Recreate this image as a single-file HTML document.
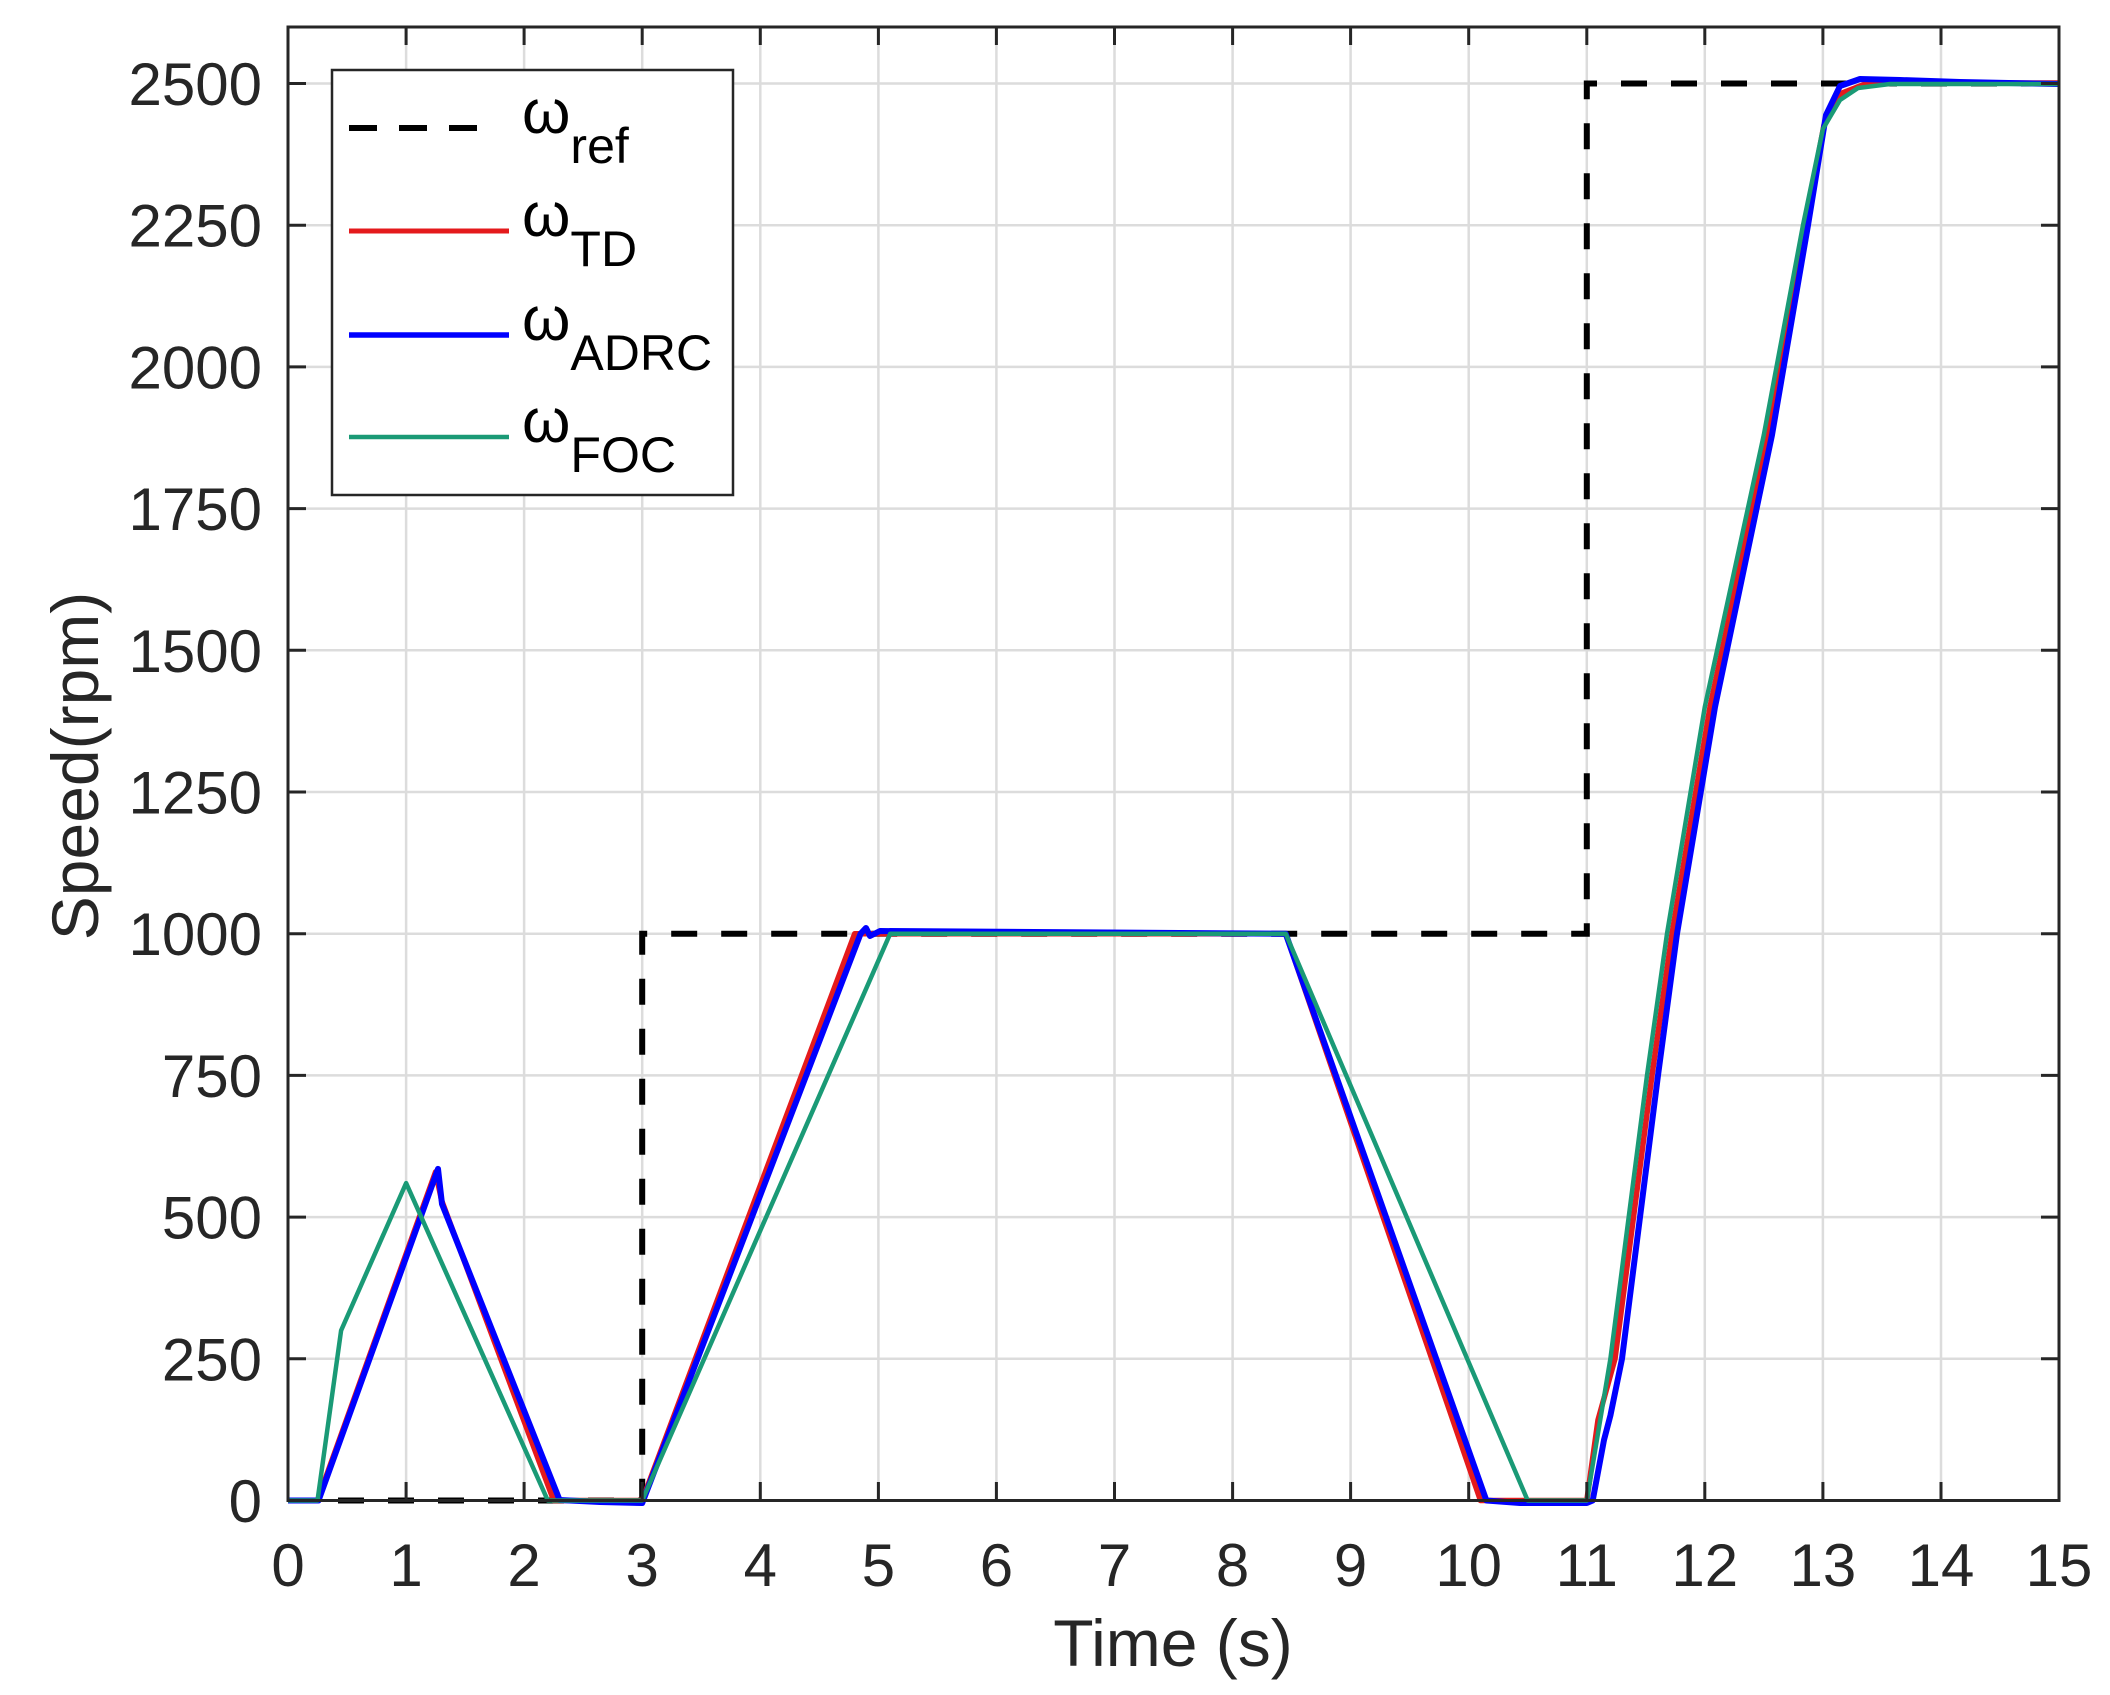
<!DOCTYPE html>
<html><head><meta charset="utf-8"><style>
html,body{margin:0;padding:0;background:#fff}
svg{display:block}
text{font-family:"Liberation Sans",Arial,sans-serif;fill:#262626}
</style></head><body>
<svg width="2110" height="1695" viewBox="0 0 2110 1695" xmlns="http://www.w3.org/2000/svg">
<rect width="2110" height="1695" fill="#fff"/>
<g stroke="#dcdcdc" stroke-width="2.5">
<line x1="406.1" y1="27" x2="406.1" y2="1500"/><line x1="524.1" y1="27" x2="524.1" y2="1500"/><line x1="642.2" y1="27" x2="642.2" y2="1500"/><line x1="760.3" y1="27" x2="760.3" y2="1500"/><line x1="878.4" y1="27" x2="878.4" y2="1500"/><line x1="996.4" y1="27" x2="996.4" y2="1500"/><line x1="1114.5" y1="27" x2="1114.5" y2="1500"/><line x1="1232.6" y1="27" x2="1232.6" y2="1500"/><line x1="1350.6" y1="27" x2="1350.6" y2="1500"/><line x1="1468.7" y1="27" x2="1468.7" y2="1500"/><line x1="1586.8" y1="27" x2="1586.8" y2="1500"/><line x1="1704.8" y1="27" x2="1704.8" y2="1500"/><line x1="1822.9" y1="27" x2="1822.9" y2="1500"/><line x1="1941" y1="27" x2="1941" y2="1500"/>
<line x1="288" y1="1358.8" x2="2059" y2="1358.8"/><line x1="288" y1="1217.1" x2="2059" y2="1217.1"/><line x1="288" y1="1075.4" x2="2059" y2="1075.4"/><line x1="288" y1="933.7" x2="2059" y2="933.7"/><line x1="288" y1="792" x2="2059" y2="792"/><line x1="288" y1="650.3" x2="2059" y2="650.3"/><line x1="288" y1="508.6" x2="2059" y2="508.6"/><line x1="288" y1="366.9" x2="2059" y2="366.9"/><line x1="288" y1="225.2" x2="2059" y2="225.2"/><line x1="288" y1="83.5" x2="2059" y2="83.5"/>
</g>
<polyline fill="none" stroke="#000" stroke-width="6" stroke-dasharray="26,24" points="288,1500.5 642.2,1500.5 642.2,933.7 1586.8,933.7 1586.8,83.5 2059,83.5"/>
<polyline fill="none" stroke="#e41a1c" stroke-width="5.5" stroke-linejoin="round" points="288,1500.5 317.5,1500.5 435.6,1171.8 441.5,1200.1 553.7,1500.5 642.2,1500.5 854.7,933.7 1285.7,933.7 1480.5,1500.5 1586.8,1500.5 1598,1420 1615,1358.8 1652,1075.4 1672,933.7 1710,707 1768,435 1805,225.2 1824,125 1842,93 1865,84 1900,83 2059,83"/>
<polyline fill="none" stroke="#0000ff" stroke-width="6" stroke-linejoin="round" points="288,1500.5 318.5,1500.5 438,1168.9 442,1204 559.6,1500 600,1502 642.2,1503 860.6,933.7 866,928 870,936 880,931 1285.7,933.7 1486.4,1500.5 1520,1503 1586.8,1503 1592.7,1500.5 1604,1440 1610.4,1415.5 1622,1358.8 1658,1075.4 1677,933.7 1715,707 1772,435 1808,225.2 1826,115 1840,86 1860,79 1900,80 1960,82 2059,84"/>
<polyline fill="none" stroke="#1a9a76" stroke-width="4.5" stroke-linejoin="round" points="288,1500.5 317.5,1500.5 341.1,1330.5 406.1,1183.1 547.8,1500.5 642.2,1500.5 890.2,933.7 1285.7,933.7 1527.7,1500.5 1586.8,1500.5 1610.4,1358.8 1647,1075.4 1667,933.7 1704.8,707 1763.8,435 1803,225.2 1822.9,129 1840,100 1858,88 1890,84 2059,84"/>
<rect x="288" y="27" width="1771" height="1473.5" fill="none" stroke="#262626" stroke-width="3"/>
<g stroke="#262626" stroke-width="3">
<path d="M406.1 1500v-18M524.1 1500v-18M642.2 1500v-18M760.3 1500v-18M878.4 1500v-18M996.4 1500v-18M1114.5 1500v-18M1232.6 1500v-18M1350.6 1500v-18M1468.7 1500v-18M1586.8 1500v-18M1704.8 1500v-18M1822.9 1500v-18M1941 1500v-18"/>
<path d="M406.1 27v18M524.1 27v18M642.2 27v18M760.3 27v18M878.4 27v18M996.4 27v18M1114.5 27v18M1232.6 27v18M1350.6 27v18M1468.7 27v18M1586.8 27v18M1704.8 27v18M1822.9 27v18M1941 27v18"/>
<path d="M288 1358.8h18M288 1217.1h18M288 1075.4h18M288 933.7h18M288 792h18M288 650.3h18M288 508.6h18M288 366.9h18M288 225.2h18M288 83.5h18"/>
<path d="M2059 1358.8h-18M2059 1217.1h-18M2059 1075.4h-18M2059 933.7h-18M2059 792h-18M2059 650.3h-18M2059 508.6h-18M2059 366.9h-18M2059 225.2h-18M2059 83.5h-18"/>
</g>
<g font-size="60" text-anchor="middle">
<text x="288" y="1586">0</text><text x="406.1" y="1586">1</text><text x="524.1" y="1586">2</text><text x="642.2" y="1586">3</text><text x="760.3" y="1586">4</text><text x="878.4" y="1586">5</text><text x="996.4" y="1586">6</text><text x="1114.5" y="1586">7</text><text x="1232.6" y="1586">8</text><text x="1350.6" y="1586">9</text><text x="1468.7" y="1586">10</text><text x="1586.8" y="1586">11</text><text x="1704.8" y="1586">12</text><text x="1822.9" y="1586">13</text><text x="1941" y="1586">14</text><text x="2059" y="1586">15</text>
</g>
<g font-size="60" text-anchor="end">
<text x="262" y="1522">0</text><text x="262" y="1380.3">250</text><text x="262" y="1238.6">500</text><text x="262" y="1096.9">750</text><text x="262" y="955.2">1000</text><text x="262" y="813.5">1250</text><text x="262" y="671.8">1500</text><text x="262" y="530.1">1750</text><text x="262" y="388.4">2000</text><text x="262" y="246.7">2250</text><text x="262" y="105">2500</text>
</g>
<text x="1173" y="1666" font-size="66" text-anchor="middle">Time (s)</text>
<text transform="translate(98,766) rotate(-90)" font-size="66" text-anchor="middle">Speed(rpm)</text>
<rect x="332" y="70" width="401" height="425" fill="#fff" stroke="#262626" stroke-width="2.5"/>
<line x1="349" y1="128" x2="492" y2="128" stroke="#000" stroke-width="6" stroke-dasharray="28,22"/>
<line x1="349" y1="231" x2="509" y2="231" stroke="#e41a1c" stroke-width="5"/>
<line x1="349" y1="335" x2="509" y2="335" stroke="#0000ff" stroke-width="5.5"/>
<line x1="349" y1="437" x2="509" y2="437" stroke="#1a9a76" stroke-width="4.5"/>
<g font-size="62">
<text x="522" y="133" style="fill:#000">ω<tspan font-size="50" dy="30">ref</tspan></text>
<text x="522" y="236" style="fill:#000">ω<tspan font-size="50" dy="30">TD</tspan></text>
<text x="522" y="340" style="fill:#000">ω<tspan font-size="50" dy="30">ADRC</tspan></text>
<text x="522" y="442" style="fill:#000">ω<tspan font-size="50" dy="30">FOC</tspan></text>
</g>
</svg>
</body></html>
